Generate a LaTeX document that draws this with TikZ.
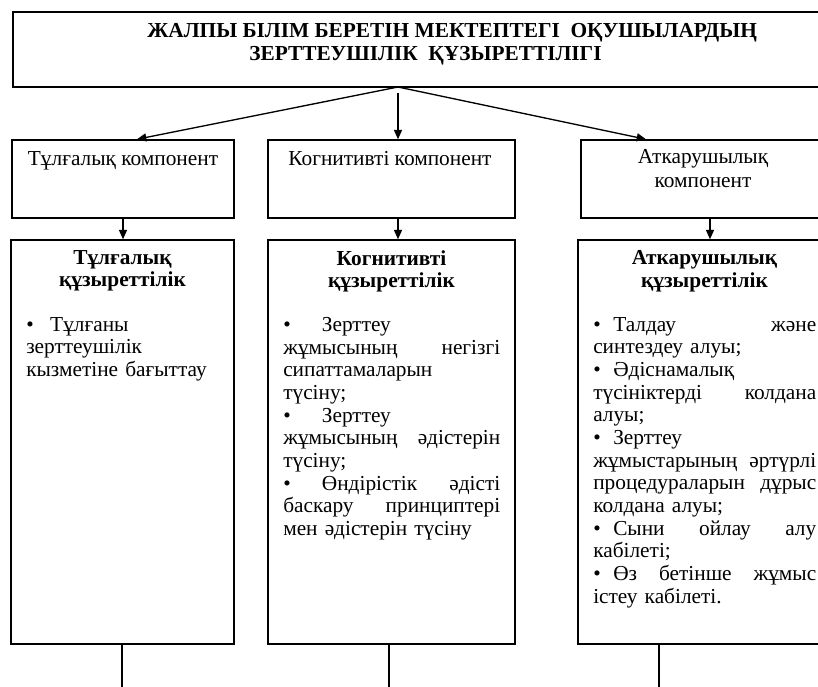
\documentclass[tikz,border=0pt]{standalone}
\usepackage{fontspec}
\setmainfont{Liberation Serif}
\usetikzlibrary{arrows.meta}
\usetikzlibrary{calc}

\newcommand\blt[1]{\makebox[#1][l]{•}}

\begin{document}
\begin{tikzpicture}[x=0.75pt,y=-0.75pt,
  box/.style={draw,line width=1.1pt,inner sep=0pt},
  cell/.style 2 args={box,minimum width=#1*0.75pt,minimum height=#2*0.75pt},
  txt/.style={font=\fontsize{16}{17}\selectfont,inner sep=0pt},
  head/.style={txt,font=\fontsize{16}{17}\selectfont\bfseries,align=center,anchor=north},
  body/.style={txt,align=left,anchor=north west},
  arr/.style={-{Triangle[length=7pt,width=6pt]},line width=1pt}]
\useasboundingbox (0,0) rectangle (818,686);
\clip (0,0) rectangle (818,686);

% top box
\node[cell={887}{75}] (top) at (456.5,49.5) {};
\node[txt,font=\fontsize{16}{17}\selectfont\bfseries,anchor=base west] (title1) at (147,37)
  {ЖАЛПЫ БІЛІМ БЕРЕТІН МЕКТЕПТЕГІ\ \ ОҚУШЫЛАРДЫҢ};
\node[txt,font=\fontsize{16}{17}\selectfont\bfseries,anchor=base west] (title2) at (249,60)
  {ЗЕРТТЕУШІЛІК\ \ ҚҰЗЫРЕТТІЛІГІ};

% component boxes and competence boxes
\foreach \n/\cx/\cw/\kx/\kw in {1/123/222/122.5/223, 2/391.5/247/391.5/247, 3/703/244/704.5/253} {
  \node[cell={\cw}{78}] (comp\n) at (\cx,179) {};
  \node[cell={\kw}{404}] (kz\n) at (\kx,442) {};
}

\node[txt,anchor=base] (ct1) at (123,165) {Тұлғалық компонент};
\node[txt,anchor=base] (ct2) at (390,165) {Когнитивті компонент};
\node[txt,align=center,anchor=north] (ct3) at (703,149) {Аткарушылық\\[1pt]компонент};

% arrows
\coordinate (hub) at (398,87);
\draw[arr] (hub) -- (comp1.north -| 137,0);
\draw[arr] ([yshift=-4.5pt]hub) -- (comp2.north -| 398,0);
\draw[arr] (hub) -- (comp3.north -| 646,0);
\foreach \n/\ax/\lx in {1/123/122, 2/398/389, 3/710/659} {
  \draw[arr] (comp\n.south -| \ax,0) -- (kz\n.north -| \ax,0);
  \draw[line width=1.1pt] (kz\n.south -| \lx,0) -- ++(0,50);
}

% texts
\node[head] (kh1) at (122.5,250) {Тұлғалық\\құзыреттілік};
\node[head] (kh2) at (391.5,250) {Когнитивті\\құзыреттілік};
\node[head] (kh3) at (704.5,250) {Аткарушылық\\құзыреттілік};

\node[body,text width=144.75pt] (kb1) at (26,317) {%
\blt{18pt}Тұлғаны\\
зерттеушілік\\
кызметіне бағыттау\hspace*{\fill}};

\node[body,text width=162.75pt] (kb2) at (283,317) {%
\blt{29pt}Зерттеу\\
жұмысының\hfill негізгі\\
сипаттамаларын\\
түсіну;\\
\blt{29pt}Зерттеу\\
жұмысының\hfill әдістерін\\
түсіну;\\
\blt{29pt}Өндірістік\hfill әдісті\\
баскару\hfill принциптері\\
мен әдістерін түсіну\hspace*{\fill}};

\node[body,text width=167.25pt] (kb3) at (593,317) {%
\blt{15pt}Талдау\hfill және\\
синтездеу алуы;\\
\blt{15pt}Әдіснамалық\\
түсініктерді\hfill колдана\\
алуы;\\
\blt{15pt}Зерттеу\\
жұмыстарының\hfill әртүрлі\\
процедураларын\hfill дұрыс\\
колдана алуы;\\
\blt{15pt}Сыни\hfill ойлау\hfill алу\\
кабілеті;\\
\blt{15pt}Өз\hfill бетінше\hfill жұмыс\\
істеу кабілеті.\hspace*{\fill}};
\end{tikzpicture}
\end{document}
